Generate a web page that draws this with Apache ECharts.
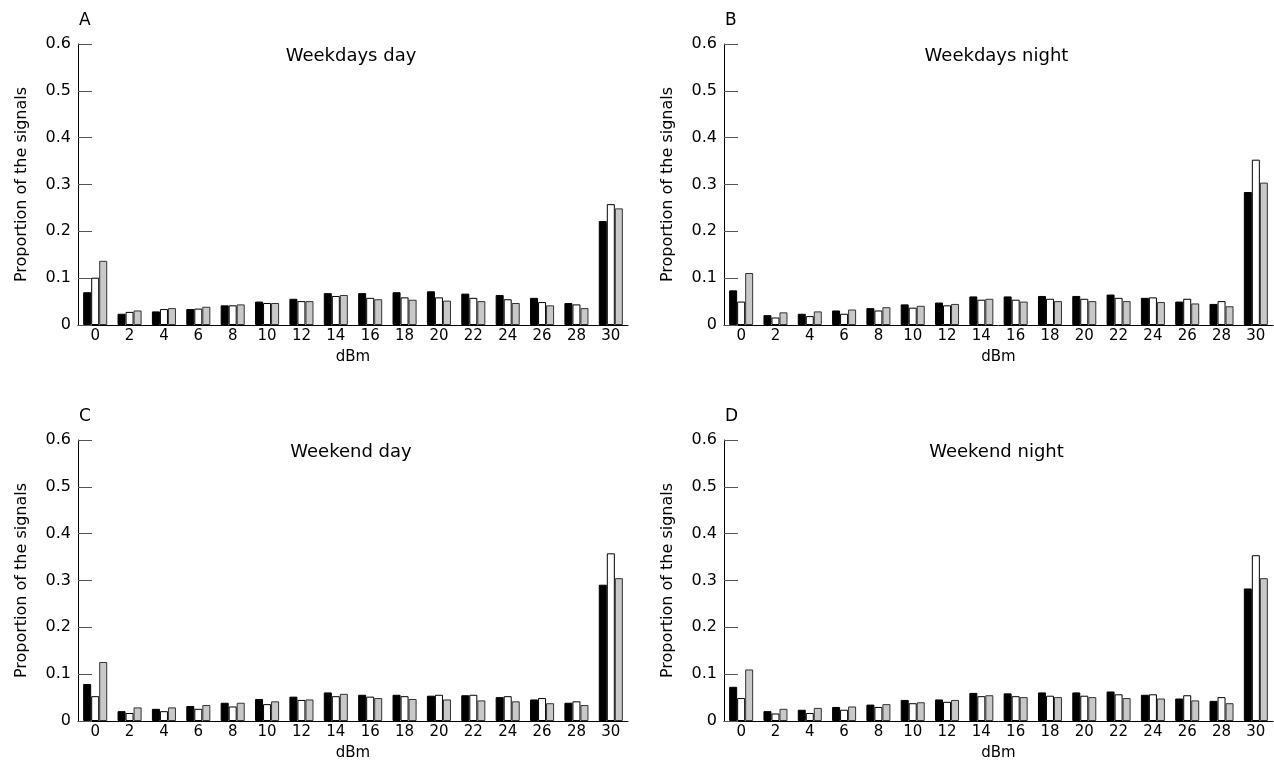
<!DOCTYPE html>
<html>
<head>
<meta charset="utf-8">
<title>signal strength</title>
<script src="https://cdn.jsdelivr.net/npm/echarts@6/dist/echarts.min.js"></script>
<style>
  html, body { margin: 0; padding: 0; background: #fff; }
  #main { width: 1274px; height: 774px; }
</style>
</head>
<body>
<div id="main"></div>
<script>
// categories (dBm) and axis ticks
const dbm = ['0', '2', '4', '6', '8', '10', '12', '14', '16', '18', '20', '22', '24', '26', '28', '30'];
const yTicks = [0, 0.1, 0.2, 0.3, 0.4, 0.5, 0.6];

const panelLetters = ['A', 'B', 'C', 'D'];
const panelTitles = ['Weekdays day', 'Weekdays night', 'Weekend day', 'Weekend night'];

// A - weekdays day
const aBlack = [0.070, 0.024, 0.029, 0.034, 0.042, 0.050, 0.056, 0.068, 0.068, 0.070, 0.072, 0.067, 0.064, 0.058, 0.047, 0.222];
const aWhite = [0.101, 0.028, 0.034, 0.035, 0.042, 0.047, 0.051, 0.062, 0.058, 0.059, 0.059, 0.058, 0.055, 0.049, 0.044, 0.258];
const aGray = [0.137, 0.031, 0.036, 0.039, 0.044, 0.047, 0.051, 0.064, 0.055, 0.054, 0.052, 0.051, 0.047, 0.042, 0.036, 0.249];
// B - weekdays night
const bBlack = [0.074, 0.021, 0.024, 0.031, 0.036, 0.044, 0.048, 0.061, 0.061, 0.062, 0.062, 0.065, 0.058, 0.050, 0.045, 0.284];
const bWhite = [0.050, 0.016, 0.019, 0.024, 0.031, 0.037, 0.042, 0.054, 0.054, 0.056, 0.056, 0.058, 0.059, 0.056, 0.051, 0.353];
const bGray = [0.111, 0.027, 0.029, 0.033, 0.038, 0.041, 0.045, 0.056, 0.050, 0.051, 0.051, 0.051, 0.049, 0.046, 0.040, 0.304];
// C - weekend day
const cBlack = [0.079, 0.021, 0.026, 0.032, 0.039, 0.047, 0.052, 0.061, 0.056, 0.056, 0.054, 0.055, 0.051, 0.046, 0.039, 0.291];
const cWhite = [0.053, 0.017, 0.021, 0.026, 0.031, 0.036, 0.045, 0.053, 0.052, 0.053, 0.056, 0.056, 0.053, 0.049, 0.042, 0.358];
const cGray = [0.126, 0.029, 0.029, 0.034, 0.039, 0.042, 0.046, 0.058, 0.049, 0.047, 0.046, 0.044, 0.042, 0.038, 0.034, 0.305];
// D - weekend night
const dBlack = [0.073, 0.021, 0.024, 0.030, 0.035, 0.045, 0.046, 0.060, 0.059, 0.061, 0.061, 0.063, 0.056, 0.048, 0.043, 0.283];
const dWhite = [0.049, 0.016, 0.017, 0.024, 0.030, 0.038, 0.041, 0.053, 0.053, 0.054, 0.054, 0.057, 0.057, 0.055, 0.051, 0.354];
const dGray = [0.110, 0.026, 0.028, 0.031, 0.036, 0.040, 0.045, 0.055, 0.051, 0.051, 0.051, 0.049, 0.048, 0.044, 0.038, 0.305];

const panelData = [
  [aBlack, aWhite, aGray],
  [bBlack, bWhite, bGray],
  [cBlack, cWhite, cGray],
  [dBlack, dWhite, dGray]
];
const fills = ['#000000', '#ffffff', '#c8c8c8'];
const borders = ['#000000', '#000000', '#333333'];

const font = '"DejaVu Sans", sans-serif';

// grid boxes (px)
const grids = [
  { left: 78, top: 44, width: 550, height: 281 },
  { left: 724, top: 44, width: 549, height: 281 },
  { left: 78, top: 440, width: 550, height: 281 },
  { left: 724, top: 440, width: 549, height: 281 }
];

let titles = [];
let xAxes = [];
let yAxes = [];
let series = [];

grids.forEach(function (g, i) {
  // panel letter
  titles.push({
    text: panelLetters[i],
    left: g.left + 1,
    top: g.top - 32,
    padding: 0,
    textStyle: { fontFamily: font, fontSize: 17, fontWeight: 'normal', color: '#000' }
  });
  // panel title
  titles.push({
    text: panelTitles[i],
    left: g.left + g.width / 2 - 2,
    top: g.top + 3,
    textAlign: 'center',
    padding: 0,
    textStyle: { fontFamily: font, fontSize: 18, fontWeight: 'normal', color: '#000' }
  });

  xAxes.push({
    type: 'category',
    gridIndex: i,
    data: dbm,
    name: 'dBm',
    nameLocation: 'middle',
    nameGap: 25,
    nameTextStyle: { fontFamily: font, fontSize: 15, color: '#000' },
    axisLine: { lineStyle: { color: '#000', width: 1 } },
    axisTick: { inside: true, length: 14, lineStyle: { color: '#333' } },
    axisLabel: { fontFamily: font, fontSize: 15, color: '#000', margin: 4, interval: 0 },
    splitLine: { show: false }
  });

  yAxes.push({
    type: 'value',
    gridIndex: i,
    min: yTicks[0],
    max: yTicks[yTicks.length - 1],
    interval: 0.1,
    name: 'Proportion of the signals',
    nameLocation: 'middle',
    nameGap: 48,
    nameTextStyle: { fontFamily: font, fontSize: 16, color: '#000' },
    axisLine: { show: true, lineStyle: { color: '#000', width: 1 } },
    axisTick: { show: true, inside: true, length: 14, lineStyle: { color: '#555' } },
    axisLabel: { fontFamily: font, fontSize: 16, color: '#000', margin: 7 },
    splitLine: { show: false }
  });

  panelData[i].forEach(function (vals, k) {
    series.push({
      type: 'bar',
      name: panelLetters[i] + (k + 1),
      xAxisIndex: i,
      yAxisIndex: i,
      data: vals,
      barGap: '0%',
      barCategoryGap: '30%',
      itemStyle: { color: fills[k], borderColor: borders[k], borderWidth: 1 },
      silent: true
    });
  });
});

let myChart = echarts.init(document.getElementById('main'));
let option = {
  backgroundColor: '#fff',
  animation: false,
  title: titles,
  grid: grids,
  xAxis: xAxes,
  yAxis: yAxes,
  series: series
};
myChart.setOption(option);
</script>
</body>
</html>
